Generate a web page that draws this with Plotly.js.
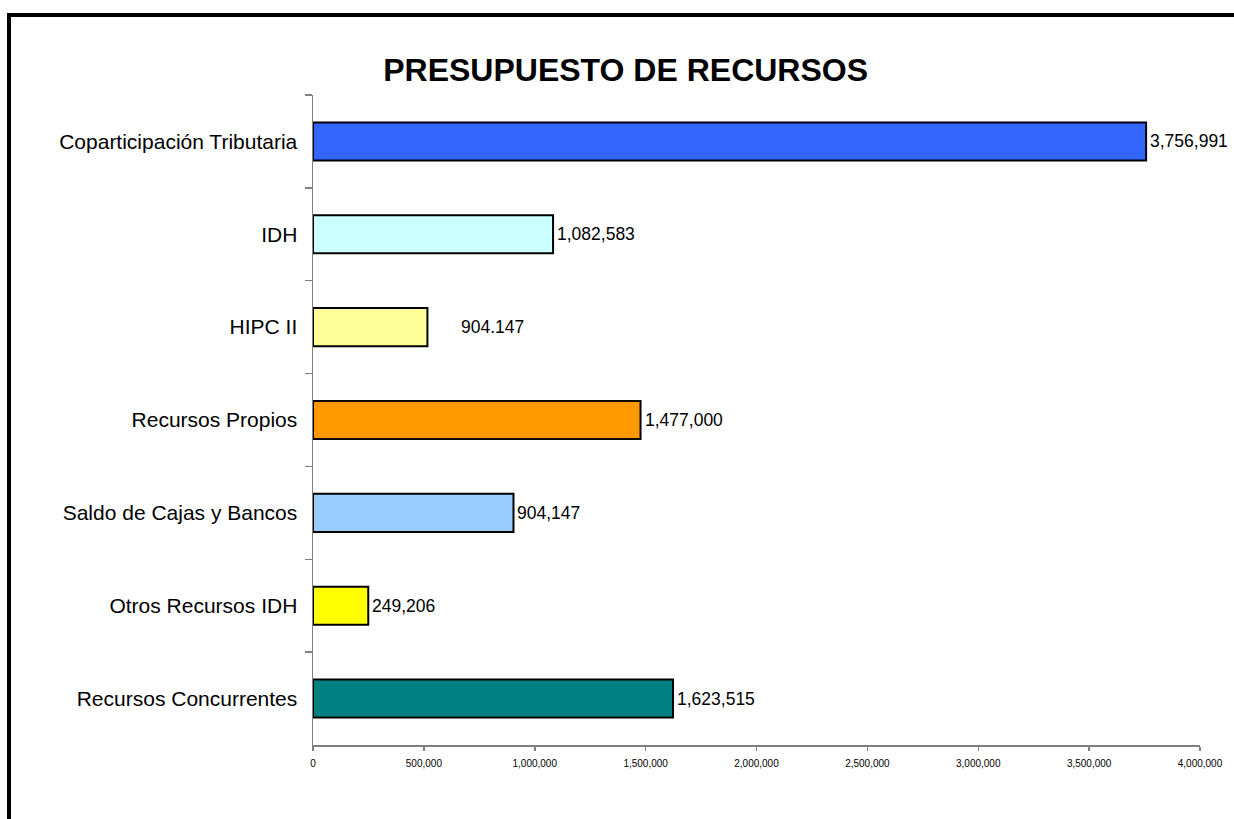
<!DOCTYPE html>
<html>
<head>
<meta charset="utf-8">
<script src="https://cdn.plot.ly/plotly-3.0.1.min.js"></script>
<style>
  html, body { margin: 0; padding: 0; background: #fff; }
  #chart { width: 1234px; height: 819px; }
  #frame { position: absolute; left: 7px; top: 13px; width: 1300px; height: 900px;
           border-top: 4px solid #000; border-left: 4px solid #000; pointer-events: none; }
</style>
</head>
<body>
<div id="chart"></div>
<div id="frame"></div>
<script>
const categories = [
  "Coparticipación Tributaria",
  "IDH",
  "HIPC II",
  "Recursos Propios",
  "Saldo de Cajas y Bancos",
  "Otros Recursos IDH",
  "Recursos Concurrentes"
];
const values = [3756991, 1082583, 516000, 1477000, 904147, 249206, 1623515];
const valueLabels = ["3,756,991", "1,082,583", "904.147", "1,477,000", "904,147", "249,206", "1,623,515"];
const barColors = ["#3366FF", "#CCFFFF", "#FFFF99", "#FF9900", "#99CCFF", "#FFFF00", "#008080"];
const labelShift = [2, 2, 32, 2, 2, 2, 2];
const xTicks = [0, 500000, 1000000, 1500000, 2000000, 2500000, 3000000, 3500000, 4000000];
const xTickText = ["0", "500,000", "1,000,000", "1,500,000", "2,000,000", "2,500,000", "3,000,000", "3,500,000", "4,000,000"];

const trace = {
  type: "bar",
  orientation: "h",
  y: categories,
  x: values,
  width: 0.41,
  marker: { color: barColors, line: { color: "#000000", width: 2 } },
  hoverinfo: "none"
};

const annotations = categories.map((c, i) => ({
  x: values[i], y: c, xref: "x", yref: "y",
  text: valueLabels[i], showarrow: false,
  xanchor: "left", yanchor: "middle", xshift: labelShift[i],
  font: { family: "Liberation Sans, Arial, sans-serif", size: 17.5, color: "#000" }
}));

const layout = {
  width: 1234, height: 819,
  margin: { l: 313, r: 34, t: 95, b: 74 },
  paper_bgcolor: "#fff", plot_bgcolor: "#fff",
  showlegend: false,
  title: {
    text: "<b>PRESUPUESTO DE RECURSOS</b>",
    font: { family: "Liberation Sans, Arial, sans-serif", size: 32, color: "#000" },
    xref: "container", x: 0.507, xanchor: "center",
    yref: "container", y: 1 - 70 / 819, yanchor: "middle"
  },
  xaxis: {
    range: [0, 4000000], fixedrange: true,
    tickvals: xTicks, ticktext: xTickText,
    ticks: "outside", ticklen: 4, tickcolor: "#808080", tickwidth: 1.5,
    showline: true, linecolor: "#808080", linewidth: 1.5,
    showgrid: false, zeroline: false,
    ticklabelstandoff: 4,
    tickfont: { family: "Liberation Sans, Arial, sans-serif", size: 10, color: "#000" }
  },
  yaxis: {
    autorange: "reversed", type: "category",
    ticks: "outside", ticklen: 7, tickcolor: "#808080", tickwidth: 1.5,
    tickson: "boundaries",
    showline: true, linecolor: "#808080", linewidth: 1.5,
    showgrid: false, zeroline: false,
    ticklabelstandoff: 10,
    tickfont: { family: "Liberation Sans, Arial, sans-serif", size: 21, color: "#000" }
  },
  annotations: annotations
};

Plotly.newPlot("chart", [trace], layout, { displayModeBar: false, staticPlot: true });
</script>
</body>
</html>
